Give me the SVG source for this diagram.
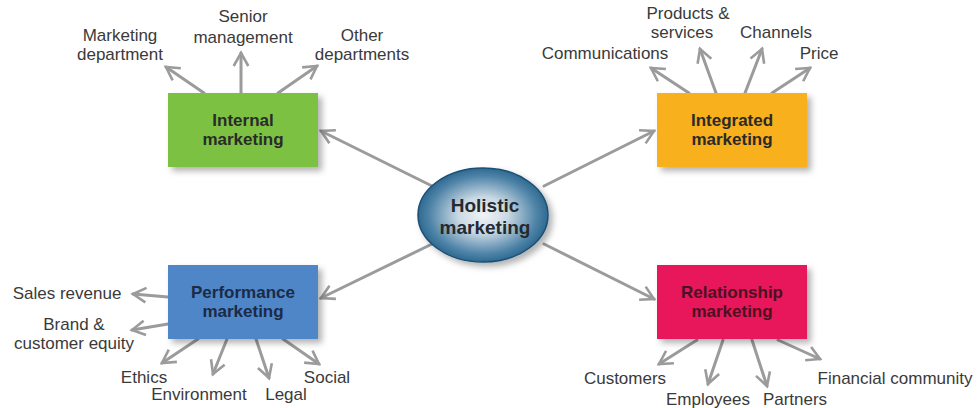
<svg xmlns="http://www.w3.org/2000/svg" width="978" height="408" viewBox="0 0 978 408">
  <defs>
    <style>
      .lbl { font-family: "Liberation Sans", Arial, sans-serif; font-size: 17px; fill: #3a3a3a; text-anchor: middle; }
      .box-t { font-family: "Liberation Sans", Arial, sans-serif; font-size: 17px; font-weight: bold; fill: #2a2a2a; text-anchor: middle; }
      .hub-t { font-family: "Liberation Sans", Arial, sans-serif; font-size: 19px; font-weight: bold; fill: #242a30; text-anchor: middle; }
      .arr { stroke: #9b9b9b; stroke-width: 3; fill: none; stroke-linecap: round; marker-end: url(#chev); }
    </style>
    <marker id="chev" viewBox="0 0 12 12" refX="10" refY="6" markerWidth="6.5" markerHeight="6.5" orient="auto" markerUnits="strokeWidth">
      <path d="M2,1.5 L10,6 L2,10.5" fill="none" stroke="#9b9b9b" stroke-width="1.6" stroke-linejoin="miter"/>
    </marker>
    <radialGradient id="hubFill" cx="50%" cy="50%" r="55%">
      <stop offset="0" stop-color="#f1f4f6"/>
      <stop offset="0.35" stop-color="#c9d8e3"/>
      <stop offset="0.75" stop-color="#4f84a8"/>
      <stop offset="1" stop-color="#1d5a84"/>
    </radialGradient>
    <filter id="shadow" x="-10%" y="-10%" width="130%" height="140%">
      <feDropShadow dx="4" dy="4" stdDeviation="3" flood-color="#000" flood-opacity="0.3"/>
    </filter>
  </defs>

  <rect width="978" height="408" fill="#ffffff"/>

  <!-- connectors -->
  <g id="connectors">
    <!-- hub to the four boxes -->
    <line class="arr" x1="432" y1="186" x2="321" y2="131"/>
    <line class="arr" x1="544" y1="186" x2="654" y2="131"/>
    <line class="arr" x1="432" y1="244" x2="321" y2="298"/>
    <line class="arr" x1="544" y1="244" x2="654" y2="299"/>

    <!-- internal marketing -->
    <line class="arr" x1="204" y1="93" x2="166" y2="67"/>
    <line class="arr" x1="241" y1="93" x2="241" y2="53"/>
    <line class="arr" x1="278" y1="93" x2="317" y2="66"/>

    <!-- integrated marketing -->
    <line class="arr" x1="689" y1="93" x2="651" y2="68"/>
    <line class="arr" x1="716" y1="93" x2="700" y2="49"/>
    <line class="arr" x1="745" y1="93" x2="762" y2="49"/>
    <line class="arr" x1="772" y1="93" x2="810" y2="68"/>

    <!-- performance marketing -->
    <line class="arr" x1="168" y1="297" x2="133" y2="294"/>
    <line class="arr" x1="168" y1="324" x2="132" y2="330"/>
    <line class="arr" x1="198" y1="339" x2="162" y2="363"/>
    <line class="arr" x1="227" y1="339" x2="213" y2="374"/>
    <line class="arr" x1="256" y1="339" x2="269" y2="378"/>
    <line class="arr" x1="283" y1="339" x2="319" y2="364"/>

    <!-- relationship marketing -->
    <line class="arr" x1="697" y1="340" x2="659" y2="364"/>
    <line class="arr" x1="723" y1="340" x2="708" y2="384"/>
    <line class="arr" x1="752" y1="340" x2="767" y2="386"/>
    <line class="arr" x1="778" y1="340" x2="820" y2="359"/>
  </g>

  <!-- central hub -->
  <g id="holistic">
    <ellipse cx="483" cy="215" rx="65" ry="47" fill="url(#hubFill)" stroke="#1b4f74" stroke-width="1.5" filter="url(#shadow)"/>
    <text class="hub-t" x="485" y="212">Holistic</text>
    <text class="hub-t" x="485" y="234">marketing</text>
  </g>

  <g id="internal">
    <rect x="168" y="93" width="150" height="74" fill="#7dc142" filter="url(#shadow)"/>
    <text class="box-t" x="243" y="126">Internal</text>
    <text class="box-t" x="243" y="145">marketing</text>
  </g>

  <g id="integrated">
    <rect x="657" y="93" width="150" height="74" fill="#f8b01b" filter="url(#shadow)"/>
    <text class="box-t" x="732" y="126">Integrated</text>
    <text class="box-t" x="732" y="145">marketing</text>
  </g>

  <g id="performance">
    <rect x="168" y="265" width="150" height="74" fill="#4f86c8" filter="url(#shadow)"/>
    <text class="box-t" x="243" y="298" style="fill:#1b2a45">Performance</text>
    <text class="box-t" x="243" y="317" style="fill:#1b2a45">marketing</text>
  </g>

  <g id="relationship">
    <rect x="657" y="265" width="150" height="74" fill="#e8185a" filter="url(#shadow)"/>
    <text class="box-t" x="732" y="298" style="fill:#4a1222">Relationship</text>
    <text class="box-t" x="732" y="317" style="fill:#4a1222">marketing</text>
  </g>

  <!-- outer labels -->
  <g id="internal-labels">
    <text class="lbl" x="120" y="41">Marketing</text>
    <text class="lbl" x="120" y="60">department</text>
    <text class="lbl" x="243" y="22">Senior</text>
    <text class="lbl" x="243" y="43">management</text>
    <text class="lbl" x="362" y="41">Other</text>
    <text class="lbl" x="362" y="60">departments</text>
  </g>

  <g id="integrated-labels">
    <text class="lbl" x="605" y="59">Communications</text>
    <text class="lbl" x="688" y="19">Products &amp;</text>
    <text class="lbl" x="682" y="38">services</text>
    <text class="lbl" x="776" y="38">Channels</text>
    <text class="lbl" x="819" y="59">Price</text>
  </g>

  <g id="performance-labels">
    <text class="lbl" x="67" y="299">Sales revenue</text>
    <text class="lbl" x="74" y="330">Brand &amp;</text>
    <text class="lbl" x="74" y="349">customer equity</text>
    <text class="lbl" x="144" y="383">Ethics</text>
    <text class="lbl" x="199" y="400">Environment</text>
    <text class="lbl" x="286" y="400">Legal</text>
    <text class="lbl" x="327" y="383">Social</text>
  </g>

  <g id="relationship-labels">
    <text class="lbl" x="625" y="384">Customers</text>
    <text class="lbl" x="708" y="405">Employees</text>
    <text class="lbl" x="795" y="405">Partners</text>
    <text class="lbl" x="895" y="384">Financial community</text>
  </g>
</svg>
